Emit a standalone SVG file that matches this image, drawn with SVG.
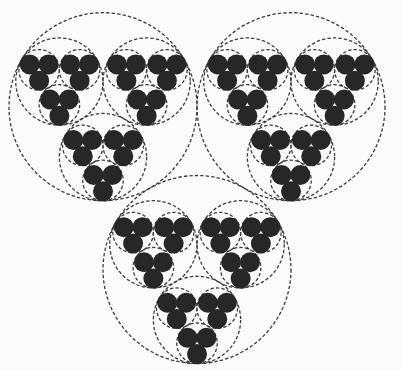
<svg xmlns="http://www.w3.org/2000/svg" xmlns:xlink="http://www.w3.org/1999/xlink" width="403" height="370" viewBox="0 0 403 370">
<style>
.d{fill:none;stroke:#3c3c3c;stroke-width:1.3;stroke-dasharray:3.4 2.1}
.b{fill:#272727}
</style>
<defs>
<circle id="d3" class="d" r="20.25"/>
<g id="D2"><circle class="d" r="43.63"/><use xlink:href="#d3" x="-20.25" y="-11.69"/><use xlink:href="#d3" x="20.25" y="-11.69"/><use xlink:href="#d3" x="0" y="23.38"/></g>
<g id="D1"><circle class="d" r="94"/><use xlink:href="#D2" x="-43.63" y="-25.19"/><use xlink:href="#D2" x="43.63" y="-25.19"/><use xlink:href="#D2" x="0" y="50.38"/></g>
<g id="b3"><circle class="b" cx="-9.4" cy="-5.43" r="10"/><circle class="b" cx="9.4" cy="-5.43" r="10"/><circle class="b" cx="0" cy="10.85" r="10"/></g>
<g id="B2"><use xlink:href="#b3" x="-20.25" y="-11.69"/><use xlink:href="#b3" x="20.25" y="-11.69"/><use xlink:href="#b3" x="0" y="23.38"/></g>
<g id="B1"><use xlink:href="#B2" x="-43.63" y="-25.19"/><use xlink:href="#B2" x="43.63" y="-25.19"/><use xlink:href="#B2" x="0" y="50.38"/></g>
</defs>
<rect width="403" height="370" fill="#fbfbfb"/>
<g id="outlines">
<use xlink:href="#D1" x="103" y="106.7"/>
<use xlink:href="#D1" x="291" y="106.7"/>
<use xlink:href="#D1" x="197" y="269.5"/>
</g>
<g id="clusters">
<use xlink:href="#B1" x="103" y="106.7"/>
<use xlink:href="#B1" x="291" y="106.7"/>
<use xlink:href="#B1" x="197" y="269.5"/>
</g>
</svg>
